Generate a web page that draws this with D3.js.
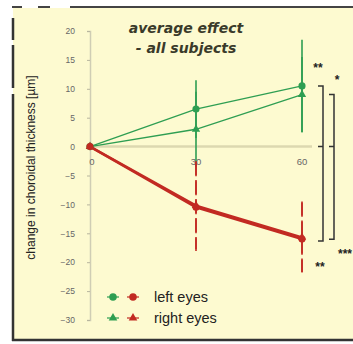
<!DOCTYPE html>
<html>
<head>
<meta charset="utf-8">
<script src="https://cdn.jsdelivr.net/npm/d3@7"></script>
<style>
  html, body { margin: 0; padding: 0; background: #ffffff; }
  svg { display: block; }
</style>
</head>
<body>
<svg id="chart" width="353" height="344"></svg>
<script>
// Time after exposure (min)
const times = [0, 30, 60];
const xTicks = [0, 30, 60];
const yTicks = [20, 15, 10, 5, 0, -5, -10, -15, -20, -25, -30];

// Mean change in choroidal thickness (µm)
const greenLeft  = [0, 6.5, 10.5];
const greenRight = [0, 3.0, 9.0];
const redLeft    = [0, -10.5, -16.0];
const redRight   = [0, -10.2, -15.7];

// Standard deviations
const greenLeftSD  = [0, 5.0, 8.0];
const greenRightSD = [0, 6.5, 6.5];
const redLeftSD    = [0, 8.0, 6.5];
const redRightSD   = [0, 7.5, 6.0];

const titleLines = ["average effect", "- all subjects"];
const yLabel = "change in choroidal thickness [µm]";
const legendLabels = ["left eyes", "right eyes"];

const GREEN = "#2e9e52";
const RED = "#c22a22";
const BG = "#fdfad0";

const svg = d3.select("#chart");

// panel background and frame
svg.append("rect").attr("x", 13).attr("y", 8).attr("width", 340).attr("height", 333).attr("fill", BG);
svg.append("g").selectAll("line").data([[18, 40], [45, 88], [94, 341]]).join("line")
  .attr("x1", 13).attr("x2", 13).attr("y1", d => d[0]).attr("y2", d => d[1])
  .attr("stroke", "#333").attr("stroke-width", 2.5);
svg.append("line").attr("x1", 12).attr("x2", 353).attr("y1", 340).attr("y2", 340)
  .attr("stroke", "#333").attr("stroke-width", 2.5);
svg.append("g").selectAll("line").data([[12, 22], [38, 50], [70, 353]]).join("line")
  .attr("x1", d => d[0]).attr("x2", d => d[1]).attr("y1", 7).attr("y2", 7)
  .attr("stroke", "#444").attr("stroke-width", 2);

const x = d3.scaleLinear().domain([0, 60]).range([90, 302]);
const y = d3.scaleLinear().domain([-30, 20]).range([320, 31]);

// y axis
const yAxis = svg.append("g").attr("transform", `translate(${x(0)},0)`)
  .call(d3.axisLeft(y).tickValues(yTicks).tickSize(3).tickPadding(12));
yAxis.select(".domain").attr("stroke", "#cfcdb4").attr("stroke-width", 1.5);
yAxis.selectAll(".tick line").attr("stroke", "#b8b69e");
yAxis.selectAll(".tick text").attr("fill", "#666").style("font-family", "Liberation Sans, Arial, sans-serif").style("font-size", "8.5px");

// zero line
svg.append("line").attr("x1", x(0)).attr("x2", 312).attr("y1", y(0)).attr("y2", y(0))
  .attr("stroke", "#dcd8b0").attr("stroke-width", 2.5);

// x tick labels
svg.append("g").selectAll("text").data(xTicks).join("text")
  .attr("x", d => x(d) + (d === 0 ? 2 : 0)).attr("y", y(0) + 18)
  .attr("text-anchor", "middle").attr("fill", "#666")
  .style("font-family", "Liberation Sans, Arial, sans-serif").style("font-size", "9.5px")
  .text(d => d);

// y label
svg.append("text").attr("transform", `translate(35,${(y(-30) + y(20)) / 2 - 8}) rotate(-90)`)
  .attr("text-anchor", "middle").attr("fill", "#222")
  .style("font-family", "Liberation Sans, Arial, sans-serif").style("font-size", "12px")
  .text(yLabel);

// title
svg.append("g").selectAll("text").data(titleLines).join("text")
  .attr("x", 186).attr("y", (d, i) => 33 + i * 20)
  .attr("text-anchor", "middle").attr("fill", "#3a3a2a")
  .style("font-family", "DejaVu Sans, Verdana, sans-serif").style("font-size", "14px")
  .style("font-weight", "bold").style("font-style", "italic")
  .text(d => d);

const series = [
  { vals: greenLeft, sd: greenLeftSD, color: GREEN, shape: "circle", width: 1.3, dash: null },
  { vals: greenRight, sd: greenRightSD, color: GREEN, shape: "triangle", width: 1.3, dash: null },
  { vals: redLeft, sd: redLeftSD, color: RED, shape: "circle", width: 2.4, dash: "14 5" },
  { vals: redRight, sd: redRightSD, color: RED, shape: "triangle", width: 2.4, dash: "14 5" }
];

// error bars
series.forEach(s => {
  const idx = times.map((t, i) => i).filter(i => s.sd[i] > 0);
  svg.append("g").selectAll("line").data(idx).join("line")
    .attr("x1", i => x(times[i])).attr("x2", i => x(times[i]))
    .attr("y1", i => y(s.vals[i] + s.sd[i]))
    .attr("y2", i => y(s.vals[i] - s.sd[i]))
    .attr("stroke", s.color).attr("stroke-width", s.color === RED ? 1.6 : 1.6)
    .attr("stroke-dasharray", s.dash);
});

// lines
const line = d3.line().x((d, i) => x(times[i])).y(d => y(d));
series.forEach(s => {
  svg.append("path").datum(s.vals).attr("d", line)
    .attr("fill", "none").attr("stroke", s.color).attr("stroke-width", s.width);
});

// markers
const sym = { circle: d3.symbolCircle, triangle: d3.symbolTriangle };
series.forEach(s => {
  svg.append("g").selectAll("path").data(s.vals).join("path")
    .attr("transform", (d, i) => `translate(${x(times[i])},${y(d)})`)
    .attr("d", d3.symbol(sym[s.shape], s.shape === "circle" ? 40 : 30))
    .attr("fill", s.color);
});

// significance brackets at 60 min
function bracket(bx, top, mid, bottom) {
  const p = d3.path();
  p.moveTo(bx - 5, top); p.lineTo(bx, top); p.lineTo(bx, bottom); p.lineTo(bx - 5, bottom);
  p.moveTo(bx - 5, mid); p.lineTo(bx, mid);
  svg.append("path").attr("d", p.toString()).attr("fill", "none")
    .attr("stroke", "#333").attr("stroke-width", 1.5);
}
bracket(323, y(greenLeft[2]), y(0), y(redLeft[2]) + 2);
bracket(334, y(greenRight[2]), y(0), y(redRight[2]) + 2);

const stars = [
  { t: "**", x: 318, y: 72 },
  { t: "*", x: 337, y: 84 },
  { t: "***", x: 345, y: 258 },
  { t: "**", x: 320, y: 271 }
];
svg.append("g").selectAll("text").data(stars).join("text")
  .attr("x", d => d.x).attr("y", d => d.y).attr("text-anchor", "middle")
  .attr("fill", "#222").style("font-family", "Liberation Sans, Arial, sans-serif")
  .style("font-size", "12px").style("font-weight", "bold").text(d => d.t);

// legend
const legend = svg.append("g");
legendLabels.forEach((lab, i) => {
  const ly = 297 + i * 21;
  const shape = i === 0 ? d3.symbolCircle : d3.symbolTriangle;
  [GREEN, RED].forEach((c, j) => {
    legend.append("path").attr("transform", `translate(${113 + j * 20},${ly})`)
      .attr("d", d3.symbol(shape, i === 0 ? 45 : 32)).attr("fill", c);
    legend.append("line").attr("x1", 107 + j * 20).attr("x2", 119 + j * 20)
      .attr("y1", ly).attr("y2", ly).attr("stroke", c).attr("stroke-width", 1.2);
  });
  legend.append("text").attr("x", 154).attr("y", ly + 5).attr("fill", "#222")
    .style("font-family", "Liberation Sans, Arial, sans-serif").style("font-size", "14.5px")
    .text(lab);
});
</script>
</body>
</html>
